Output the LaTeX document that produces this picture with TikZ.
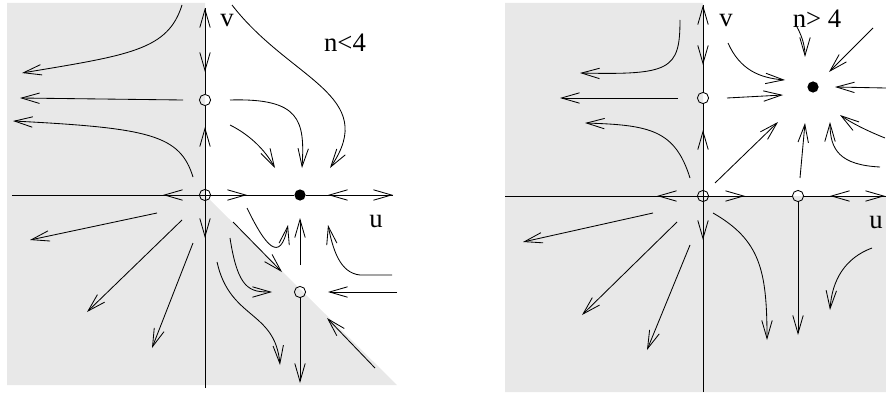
\documentclass[tikz,border=0pt]{standalone}
\usepackage{fontspec}
\setmainfont{Liberation Serif}
\usetikzlibrary{arrows.meta}

\begin{document}
\begin{tikzpicture}[x=0.025cm,y=-0.025cm]
    \pgfmathsetmacro{\dotsize}{0.28}
    \tikzset{traj/.style={line width=0.6pt,-{Straight Barb[length=4.5mm,width=2.6mm,line width=0.6pt]}}}
    \tikzset{axisline/.style={line width=0.6pt}}
    \tikzset{saddle/.style={circle,draw,line width=0.6pt,inner sep=0pt,minimum size=\dotsize cm}}
    \tikzset{sink/.style={circle,fill=black,inner sep=0pt,minimum size=\dotsize cm}}
    \tikzset{lbl/.style={anchor=base,font=\fontsize{19}{22}\selectfont,inner sep=0pt}}
    \useasboundingbox (0,0) rectangle (886,394);
    \fill[black!9] (7,3) -- (205,3) -- (205,195) -- (397,385) -- (7,385) -- cycle;
    \fill[black!9] (505,3) -- (703,3) -- (703,196) -- (886,196) -- (886,392) -- (505,392) -- cycle;
    \coordinate (Lvt) at (205,8);
    \coordinate (Lvb) at (205,388);
    \coordinate (Lul) at (12,195);
    \coordinate (Lur) at (393,195);
    \node[saddle] (L0) at (205,195) {};
    \node[saddle] (Lv) at (205,100) {};
    \node[sink] (Ls) at (300,195) {};
    \node[saddle] (Lq) at (300,292) {};
    \draw[axisline] (Lvb) -- (Lv) -- (Lvt);
    \draw[axisline] (Lul) -- (Ls) -- (Lur);
    \draw[traj] (205,20) -- (Lvt);
    \draw[traj] (205,55) -- (205,72);
    \draw[traj] (205,145) -- (205,127);
    \draw[traj] (205,220) -- (205,238);
    \draw[traj] (180,195) -- (163,195);
    \draw[traj] (230,195) -- (247,195);
    \draw[traj] (345,195) -- (328,195);
    \draw[traj] (376,195) -- (Lur);
    \draw[traj] (182,5) .. controls (168,50) and (130,55) .. (22,73);
    \draw[traj] (183,100) -- (20,98);
    \draw[traj] (193,177) .. controls (180,135) and (150,128) .. (13,121);
    \draw[traj] (157,213) -- (30,240);
    \draw[traj] (182,220) -- (87,312);
    \draw[traj] (193,243) -- (152,348);
    \draw[traj] (232,5) .. controls (290,80) and (380,95) .. (330,168);
    \draw[traj] (230,100) .. controls (300,98) and (305,120) .. (302,168);
    \draw[traj] (230,125) .. controls (250,135) and (265,150) .. (275,168);
    \draw[traj] (392,275) -- (360,275) .. controls (340,273) and (333,250) .. (328,225);
    \draw[traj] (247,208) .. controls (265,245) and (280,265) .. (288,225);
    \draw[traj] (233,222) -- (282,272);
    \draw[traj] (230,238) .. controls (238,290) and (250,292) .. (272,292);
    \draw[traj] (217,262) .. controls (230,320) and (275,310) .. (280,365);
    \draw[traj] (375,368) -- (327,318);
    \draw[traj] (300,265) -- (300,218);
    \draw[traj] (Lq) -- (300,383);
    \draw[traj] (397,292) -- (328,292);
    \node[lbl] (Lvl) at (227,27) {v};
    \node[lbl] (Lull) at (376,227) {u};
    \node[lbl] (Ln) at (345,52) {n<4};
    \coordinate (Rvt) at (703,5);
    \coordinate (Rvb) at (703,392);
    \coordinate (Rul) at (505,196);
    \coordinate (Rur) at (886,196);
    \node[saddle] (R0) at (703,196) {};
    \node[saddle] (Rv) at (703,98) {};
    \node[saddle] (Ru) at (798,196) {};
    \node[sink] (Rs) at (813,87) {};
    \draw[axisline] (Rvb) -- (Rv) -- (Rvt);
    \draw[axisline] (Rul) -- (Ru) -- (Rur);
    \draw[traj] (703,20) -- (Rvt);
    \draw[traj] (703,48) -- (703,65);
    \draw[traj] (703,148) -- (703,130);
    \draw[traj] (703,222) -- (703,240);
    \draw[traj] (674,196) -- (657,196);
    \draw[traj] (728,196) -- (745,196);
    \draw[traj] (847,196) -- (830,196);
    \draw[traj] (868,196) -- (885,196);
    \draw[traj] (680,20) .. controls (680,70) and (670,75) .. (580,73);
    \draw[traj] (678,98) -- (560,98);
    \draw[traj] (690,178) .. controls (675,130) and (650,125) .. (585,123);
    \draw[traj] (653,213) -- (523,242);
    \draw[traj] (677,222) -- (582,315);
    \draw[traj] (690,245) -- (647,350);
    \draw[traj] (728,43) .. controls (740,70) and (760,78) .. (785,80);
    \draw[traj] (727,98) -- (783,95);
    \draw[traj] (715,183) -- (778,122);
    \draw[traj] (797,27) .. controls (803,38) and (805,48) .. (805,57);
    \draw[traj] (873,28) -- (829,72);
    \draw[traj] (886,88) -- (835,87);
    \draw[traj] (885,138) .. controls (865,130) and (850,122) .. (840,115);
    \draw[traj] (880,167) .. controls (840,165) and (830,150) .. (830,122);
    \draw[traj] (800,178) -- (805,123);
    \draw[traj] (713,213) .. controls (760,240) and (767,270) .. (767,340);
    \draw[traj] (Ru) -- (798,335);
    \draw[traj] (872,248) .. controls (845,258) and (832,280) .. (830,310);
    \node[lbl] (Rvl) at (726,27) {v};
    \node[lbl] (Rull) at (876,228) {u};
    \node[lbl] (Rn) at (817,28) {n> 4};
\end{tikzpicture}
\end{document}
